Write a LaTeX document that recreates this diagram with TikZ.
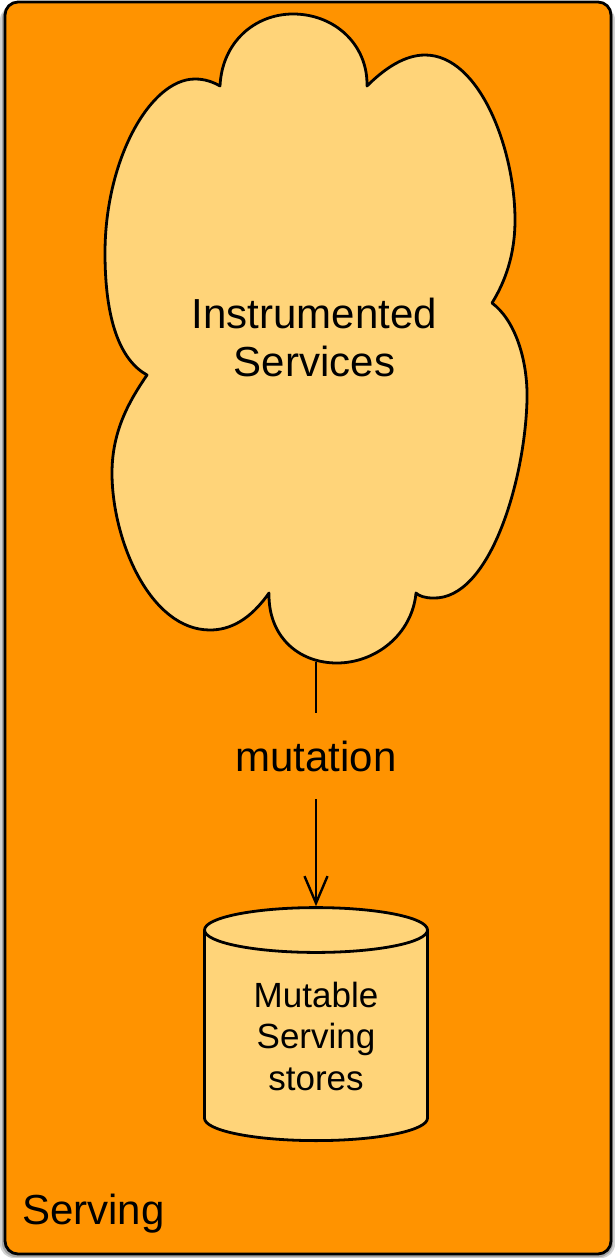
\documentclass[tikz,border=0pt]{standalone}
\usepackage{fontspec}
\setmainfont{Liberation Sans}
\usetikzlibrary{shapes.geometric,arrows.meta}
\definecolor{tangerine}{HTML}{FF9300}
\definecolor{cantaloupe}{HTML}{FFD479}
\tikzset{
  frame/.style={draw=black,line width=2.8pt,fill=tangerine,rounded corners=13pt},
  shadowbox/.style={fill=black!35,rounded corners=14pt},
  cloudshape/.style={draw=black,line width=2.8pt,fill=cantaloupe,line join=round},
  store/.style={cylinder,shape border rotate=90,draw=black,line width=2.8pt,
    fill=cantaloupe,minimum width=223pt,minimum height=233pt,aspect=0.36,
    align=center,inner sep=0pt,font=\fontsize{35}{41.5}\selectfont},
  bigtext/.style={align=center,inner sep=0pt,font=\fontsize{42}{48}\selectfont},
  flow/.style={draw=black,line width=2.4pt,-{Straight Barb[length=27pt,width=23pt,line width=2.4pt]}},
  flowlabel/.style={fill=tangerine,inner sep=0pt,minimum height=86pt,font=\fontsize{42}{48}\selectfont},
}
\begin{document}
\begin{tikzpicture}[x=1pt,y=-1pt]
\useasboundingbox (0,0) rectangle (615,1258);
% soft shadow and the outer frame
\fill[shadowbox,black!18] (0,6) rectangle (615,1258);
\fill[shadowbox] (2,5) rectangle (613,1257);
\draw[frame] (5,2) rectangle (611,1254);
% cloud outline
\path[cloudshape]
  (220,86) .. controls (222,42) and (255,14) .. (293,14)
  .. controls (335,14) and (368,45) .. (367,86)
  .. controls (385,68) and (405,55) .. (425,55)
  .. controls (480,55) and (515,150) .. (515,220)
  .. controls (515,255) and (505,282) .. (492,303)
  .. controls (515,320) and (528,360) .. (527,400)
  .. controls (525,480) and (490,600) .. (433,598)
  .. controls (425,598) and (419,596) .. (416,593)
  .. controls (412,635) and (375,663) .. (337,663)
  .. controls (297,663) and (268,635) .. (269,593)
  .. controls (250,620) and (230,630) .. (210,630)
  .. controls (150,630) and (112,540) .. (112,473)
  .. controls (112,430) and (130,400) .. (147,375)
  .. controls (120,360) and (105,320) .. (105,253)
  .. controls (105,160) and (150,79) .. (195,79)
  .. controls (205,79) and (213,82) .. (220,86) -- cycle;
\coordinate (cloudbottom) at (316,662);
\node[bigtext,anchor=base] (services) at (314.5,376) {Instrumented\\Services};
% storage cylinder
\node[store] (stores) at (316,1036) {Mutable\\Serving\\stores};
% mutation arrow
\draw[flow] (cloudbottom) -- node[flowlabel,pos=0.385] (mutation) {mutation} (stores.top);
% frame title
\node[bigtext,anchor=base west] (serving) at (22,1224) {Serving};
\end{tikzpicture}
\end{document}
